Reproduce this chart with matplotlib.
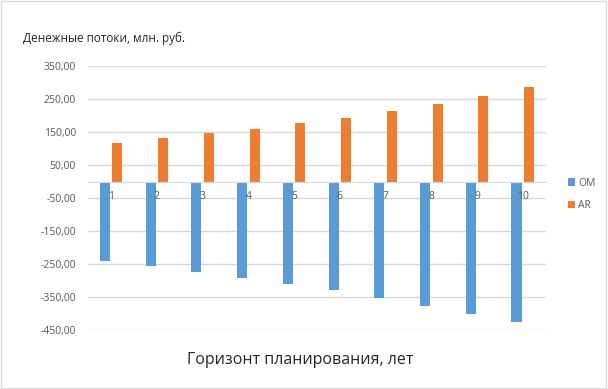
import numpy as np
import matplotlib
matplotlib.use("Agg")
import matplotlib.pyplot as plt
from matplotlib.ticker import FuncFormatter
from matplotlib.patches import Rectangle

plt.rcParams["font.family"] = ["Open Sans", "DejaVu Sans"]
plt.rcParams["axes.unicode_minus"] = False

years = ["1", "2", "3", "4", "5", "6", "7", "8", "9", "10"]
om = [-240, -256, -275, -293, -311, -330, -352, -376, -400, -426]
ar = [118, 133, 147, 160, 177, 195, 214, 237, 261, 288]
yticks = [-450, -350, -250, -150, -50, 50, 150, 250, 350]

BLUE = "#5B9BD5"
ORANGE = "#ED7D31"
GRID = "#D9D9D9"
GRAY = "#595959"

fig = plt.figure(figsize=(6.08, 3.89), dpi=100)
ax = fig.add_axes([0.1452, 0.1517, 0.7523, 0.6774])

x = np.arange(len(years))
w = 0.22
ax.bar(x - 0.138, om, width=w, color=BLUE, label="OM", zorder=3)
ax.bar(x + 0.138, ar, width=w, color=ORANGE, label="AR", zorder=3)

ax.set_xlim(-0.5, len(years) - 0.5)
ax.set_ylim(-450, 350)
ax.set_yticks(yticks)
ax.yaxis.set_major_formatter(FuncFormatter(lambda v, p: f"{v:.2f}".replace(".", ",")))
ax.grid(axis="y", color=GRID, lw=1.0, zorder=0)
ax.set_axisbelow(True)
ax.set_xticks([])

# category labels sit just under the zero line, on top of the bars
for xi, lab in zip(x, years):
    ax.annotate(lab, (xi, 0), xytext=(0, -7), textcoords="offset points",
                ha="center", va="top", fontsize=7.5, color=GRAY, zorder=6)

for s in ["left", "right", "top"]:
    ax.spines[s].set_visible(False)
ax.spines["bottom"].set_position(("data", 0))
ax.spines["bottom"].set_color(GRID)
ax.spines["bottom"].set_zorder(4)
ax.tick_params(axis="both", length=0, colors=GRAY, labelsize=7.5)
ax.tick_params(axis="y", pad=9)

fig.text(0.038, 0.902, "Денежные потоки, млн. руб.", fontsize=8.5, color="#262626",
         va="center", ha="left")
fig.text(0.494, 0.075, "Горизонт планирования, лет", fontsize=11.5, color="#262626",
         va="center", ha="center")

fig.legend(loc="center left", bbox_to_anchor=(0.918, 0.50), frameon=False,
           fontsize=7.5, handlelength=0.7, handleheight=0.7, handletextpad=0.3,
           labelspacing=1.1, labelcolor=GRAY)

fig.patches.append(Rectangle((0.002, 0.003), 0.995, 0.994, transform=fig.transFigure,
                             fill=False, edgecolor=GRID, lw=1.0))

fig.savefig("out.png", dpi=100, facecolor="white")
